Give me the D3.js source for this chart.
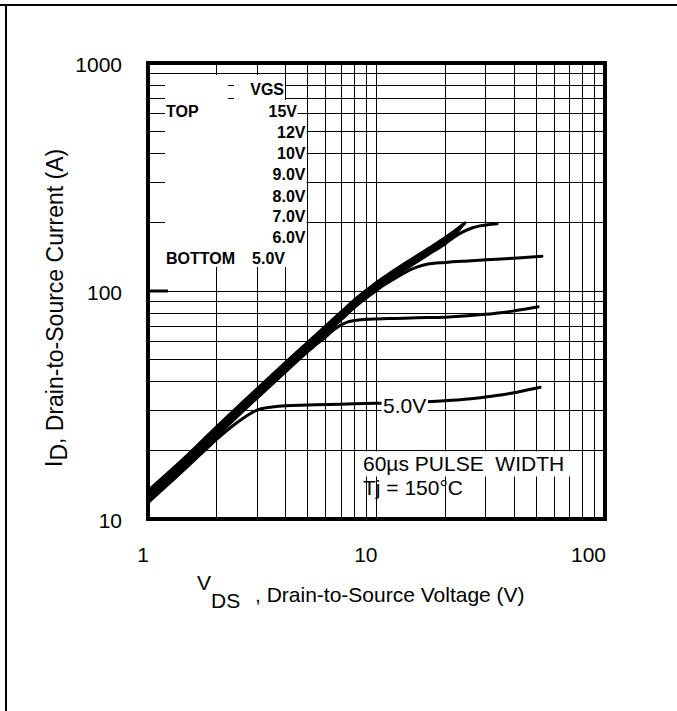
<!DOCTYPE html>
<html>
<head>
<meta charset="utf-8">
<script src="https://cdn.jsdelivr.net/npm/d3@7"></script>
<style>
  html, body { margin: 0; padding: 0; background: #fff; overflow: hidden; }
  svg { display: block; font-family: "Liberation Sans", Arial, Helvetica, sans-serif; }
</style>
</head>
<body>
<svg id="chart" width="677" height="711"></svg>
<script>
// ---- axis ticks ----
const xTicks = [1, 10, 100];
const xTickLabels = ["1", "10", "100"];
const yTicks = [10, 100, 1000];
const yTickLabels = ["10", "100", "1000"];
const xGrid = [2, 3, 4, 5, 6, 7, 8, 9, 10, 20, 30, 40, 50, 60, 70, 80, 90];
const yGrid = [20, 30, 40, 50, 60, 70, 80, 90, 100, 200, 300, 400, 500, 600, 700, 800, 900];

// ---- legend ----
const legendValues = ["15V", "12V", "10V", "9.0V", "8.0V", "7.0V", "6.0V"];
const legendBottom = "5.0V";

// ---- output curves: [VDS (V), ID (A)] ----
const curve15V = [[1,13.3],[1.5,19.2],[2,25.4],[3,37.2],[4,48.6],[5,59.6],[6,70.4],[7,80.9],[8,91.3],[9,100.5],[10,109],[11,116.5],[12,123.5],[14,136.5],[17,154.5],[20,171.5],[22,184],[24.4,199]];
const curve12V = [[1,13.1],[1.5,18.9],[2,25.0],[3,36.6],[4,47.9],[5,58.7],[6,69.3],[7,79.7],[8,89.9],[9,99.0],[10,107.4],[11,114.8],[12,121.6],[14,134.5],[17,152.2],[20,169],[22,181.2],[24.2,197.5]];
const curve10V = [[1,12.9],[1.5,18.6],[2,24.6],[3,36.1],[4,47.1],[5,57.8],[6,68.3],[7,78.5],[8,88.6],[9,97.5],[10,105.7],[11,113],[12,119.8],[14,132.4],[17,149.9],[20,166.4],[22,178.5],[24,196]];
const curve9V  = [[1,12.7],[1.5,18.3],[2,24.3],[3,35.5],[4,46.4],[5,56.9],[6,67.2],[7,77.3],[8,87.2],[9,96],[10,104.1],[11,111.3],[12,118],[14,130.4],[17,147.6],[20,163.9],[22,175.7],[23.8,194.5]];
const curve8V  = [[1,12.5],[1.5,18.0],[2,23.9],[3,35.0],[4,45.7],[5,56.0],[6,66.2],[7,76.1],[8,85.8],[9,94.5],[10,102.5],[11,109.6],[12,116.2],[14,128.4],[17,145.3],[20,161.3],[22,173],[24,182],[26,188.5],[28,192.5],[31,195.5],[33.7,197]];
const curve7V  = [[1,12.3],[1.5,17.8],[2,23.5],[3,34.4],[4,45.0],[5,55.1],[6,65.1],[7,74.8],[8,84.5],[9,93],[10,100.8],[11,107.5],[12,113.3],[13,118.8],[14,123.8],[15,127.3],[16.6,131],[20,133.5],[25,135.5],[30,137],[40,139.3],[53,142]];
const curve6V  = [[1,12.1],[1.5,17.5],[2,23.1],[3,33.9],[4,44.2],[5,54.2],[5.5,58.8],[6,63],[6.5,67.5],[7,71],[7.5,73.2],[8,74.3],[9,75.1],[10,75.4],[12,75.8],[15,76.3],[20,76.8],[25,77.8],[30,79],[35,80.3],[40,81.8],[45,83.4],[51,85.3]];
const curve5V  = [[1,11.8],[1.5,17.1],[1.8,20.3],[2,22.4],[2.3,25.2],[2.6,27.6],[3,30.0],[3.5,31.0],[4,31.4],[5,31.6],[7,31.9],[10,32.2],[15,32.5],[20,33],[25,33.6],[30,34.3],[35,35],[40,35.8],[45,36.7],[52,37.8]];
const curves = [curve15V, curve12V, curve10V, curve9V, curve8V, curve7V, curve6V, curve5V];

const svg = d3.select("#chart");

// plot frame
const plotL = 148, plotR = 605, plotT = 63, plotB = 519;
const x = d3.scaleLog().domain([1, 100]).range([plotL, plotR]);
const y = d3.scaleLog().domain([10, 1000]).range([plotB, plotT]);

// page border (top and left edges)
svg.append("line").attr("x1", 0).attr("x2", 677).attr("y1", 5).attr("y2", 5)
  .attr("stroke", "#000").attr("stroke-width", 2);
svg.append("line").attr("x1", 6).attr("x2", 6).attr("y1", 4).attr("y2", 711)
  .attr("stroke", "#000").attr("stroke-width", 2);

// grid
const grid = svg.append("g").attr("stroke", "#000").attr("stroke-width", 1)
  .attr("shape-rendering", "crispEdges");
grid.selectAll("line.vx").data(xGrid).join("line").attr("class", "vx")
  .attr("x1", d => x(d)).attr("x2", d => x(d)).attr("y1", plotT).attr("y2", plotB);
grid.selectAll("line.hy").data(yGrid).join("line").attr("class", "hy")
  .attr("x1", plotL).attr("x2", plotR).attr("y1", d => y(d)).attr("y2", d => y(d));

// white knock-outs behind the legend block
const knock = svg.append("g").attr("fill", "#fff");
[[165, 75, 228, 100], [234, 75, 285, 100], [165, 100, 287.5, 267],
 [287, 102, 297.5, 121], [287, 121, 306.5, 250]].forEach(r => {
  knock.append("rect").attr("x", r[0]).attr("y", r[1])
    .attr("width", r[2] - r[0]).attr("height", r[3] - r[1]);
});
// knock-out behind the pulse-width note
knock.append("rect").attr("x", 360).attr("y", 451.5).attr("width", 221.5).attr("height", 25);

// heavy stub at the 100 A tick
svg.append("line").attr("x1", plotL).attr("x2", 168).attr("y1", y(100)).attr("y2", y(100))
  .attr("stroke", "#000").attr("stroke-width", 3);

// curves
const line = d3.line().x(d => x(d[0])).y(d => y(d[1])).curve(d3.curveMonotoneX);
svg.append("g").attr("fill", "none").attr("stroke", "#000").attr("stroke-width", 3)
  .attr("stroke-linecap", "round").attr("stroke-linejoin", "round")
  .selectAll("path").data(curves).join("path").attr("d", line);

// "5.0V" curve label
svg.append("rect").attr("x", 381.5).attr("y", 396).attr("width", 46.5).attr("height", 21).attr("fill", "#fff");
svg.append("text").attr("x", 383).attr("y", 413).attr("font-size", 21).text("5.0V");

// legend
const lg = svg.append("g").attr("font-weight", "bold").attr("font-size", 16).attr("fill", "#000");
lg.append("text").attr("x", 284).attr("y", 95).attr("text-anchor", "end").text("VGS");
lg.append("text").attr("x", 166).attr("y", 116.5).text("TOP");
lg.append("text").attr("x", 166).attr("y", 263.5).text("BOTTOM");
lg.append("text").attr("x", 285).attr("y", 263.5).attr("text-anchor", "end").text(legendBottom);
const legendY = [116.5, 137.5, 159, 180, 201.5, 222, 243];
lg.selectAll("text.v").data(legendValues).join("text").attr("class", "v")
  .attr("x", (d, i) => i === 0 ? 297 : 305.5).attr("y", (d, i) => legendY[i])
  .attr("text-anchor", "end").text(d => d);

// pulse-width note
svg.append("text").attr("x", 363).attr("y", 471).attr("font-size", 21)
  .style("white-space", "pre").text("60\u00b5s PULSE  WIDTH");
svg.append("text").attr("x", 363).attr("y", 495).attr("font-size", 21).text("Tj = 150\u00b0C");

// frame
svg.append("rect").attr("x", plotL).attr("y", plotT).attr("width", plotR - plotL).attr("height", plotB - plotT)
  .attr("fill", "none").attr("stroke", "#000").attr("stroke-width", 4);

// tick labels
svg.selectAll("text.xt").data(xTicks).join("text").attr("class", "xt")
  .attr("x", d => x(d) + 1).attr("y", 562).attr("text-anchor", "end").attr("font-size", 21)
  .text((d, i) => xTickLabels[i]);
svg.selectAll("text.yt").data(yTicks).join("text").attr("class", "yt")
  .attr("x", 122).attr("y", d => y(d) + 8.5).attr("text-anchor", "end").attr("font-size", 21)
  .text((d, i) => yTickLabels[i]);

// axis titles
const xt = svg.append("text").attr("font-size", 21);
xt.append("tspan").attr("x", 197).attr("y", 590).text("V");
xt.append("tspan").attr("y", 608).text("DS");
xt.append("tspan").attr("x", 255).attr("y", 602).text(", Drain-to-Source Voltage (V)");

const yt = svg.append("text").attr("font-size", 23).attr("transform", "rotate(-90)");
yt.append("tspan").attr("x", -467).attr("y", 62).text("I");
yt.append("tspan").attr("y", 67).text("D");
yt.append("tspan").attr("y", 63).text(", Drain-to-Source Current (A)");
</script>
</body>
</html>
